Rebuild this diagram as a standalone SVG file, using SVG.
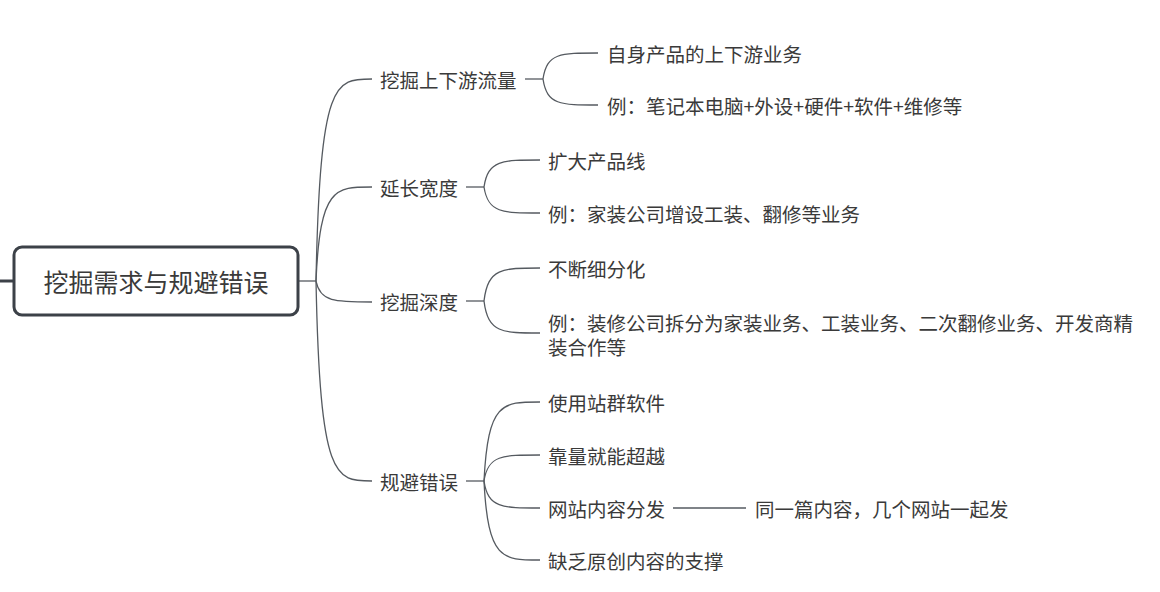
<svg xmlns="http://www.w3.org/2000/svg" width="1160" height="592" viewBox="0 0 1160 592">
<style>
text{font-family:"Noto Sans CJK SC","Microsoft YaHei",sans-serif;fill:#3a3a3a;dominant-baseline:central}
.t{font-size:19.5px}
.r{font-size:25px;text-anchor:middle}
.c{fill:none;stroke:#555a60;stroke-width:1.3}
</style>
<rect width="1160" height="592" fill="#fff"/>
<g id="connectors">
<line x1="0" y1="281" x2="14" y2="281" stroke="#3c4148" stroke-width="3"/>
<path class="c" d="M298,281 H316"/>
<path class="c" d="M316,281 C320,79 335,79 372,79"/>
<path class="c" d="M316,281 C320,187 335,187 372,187"/>
<path class="c" d="M316,281 C320,302 335,302 372,302"/>
<path class="c" d="M316,281 C320,481 335,481 372,481"/>
<path class="c" d="M525,79 H543"/>
<path class="c" d="M543,79 C547,53 560,53 598,53"/>
<path class="c" d="M543,79 C547,105 560,105 598,105"/>
<path class="c" d="M466,187 H484"/>
<path class="c" d="M484,187 C488,160 502,160 540,160"/>
<path class="c" d="M484,187 C488,213 502,213 540,213"/>
<path class="c" d="M466,301 H484"/>
<path class="c" d="M484,301 C488,268 502,268 540,268"/>
<path class="c" d="M484,301 C488,333 502,333 540,333"/>
<path class="c" d="M466,481 H484"/>
<path class="c" d="M484,481 C488,402 502,402 540,402"/>
<path class="c" d="M484,481 C488,455 502,455 540,455"/>
<path class="c" d="M484,481 C488,508 502,508 540,508"/>
<path class="c" d="M484,481 C488,560 502,560 540,560"/>
<path class="c" d="M673,508 H746"/>
</g>
<g id="root">
<rect x="14" y="247" width="284" height="68" rx="8" fill="#fff" stroke="#3c4148" stroke-width="3"/>
<text class="r" x="156" y="281">挖掘需求与规避错误</text>
</g>
<g id="n1"><text class="t" x="380" y="79">挖掘上下游流量</text></g>
<g id="n1a"><text class="t" x="607" y="53">自身产品的上下游业务</text></g>
<g id="n1b"><text class="t" x="607" y="105">例：笔记本电脑+外设+硬件+软件+维修等</text></g>
<g id="n2"><text class="t" x="380" y="187">延长宽度</text></g>
<g id="n2a"><text class="t" x="548" y="160">扩大产品线</text></g>
<g id="n2b"><text class="t" x="548" y="213">例：家装公司增设工装、翻修等业务</text></g>
<g id="n3"><text class="t" x="380" y="301">挖掘深度</text></g>
<g id="n3a"><text class="t" x="548" y="268">不断细分化</text></g>
<g id="n3b"><text class="t"><tspan x="548" y="322">例：装修公司拆分为家装业务、工装业务、二次翻修业务、开发商精</tspan><tspan x="548" y="346">装合作等</tspan></text></g>
<g id="n4"><text class="t" x="380" y="481">规避错误</text></g>
<g id="n4a"><text class="t" x="548" y="402">使用站群软件</text></g>
<g id="n4b"><text class="t" x="548" y="455">靠量就能超越</text></g>
<g id="n4c"><text class="t" x="548" y="508">网站内容分发</text></g>
<g id="n4c1"><text class="t" x="755" y="508">同一篇内容，几个网站一起发</text></g>
<g id="n4d"><text class="t" x="548" y="560">缺乏原创内容的支撑</text></g>
</svg>
